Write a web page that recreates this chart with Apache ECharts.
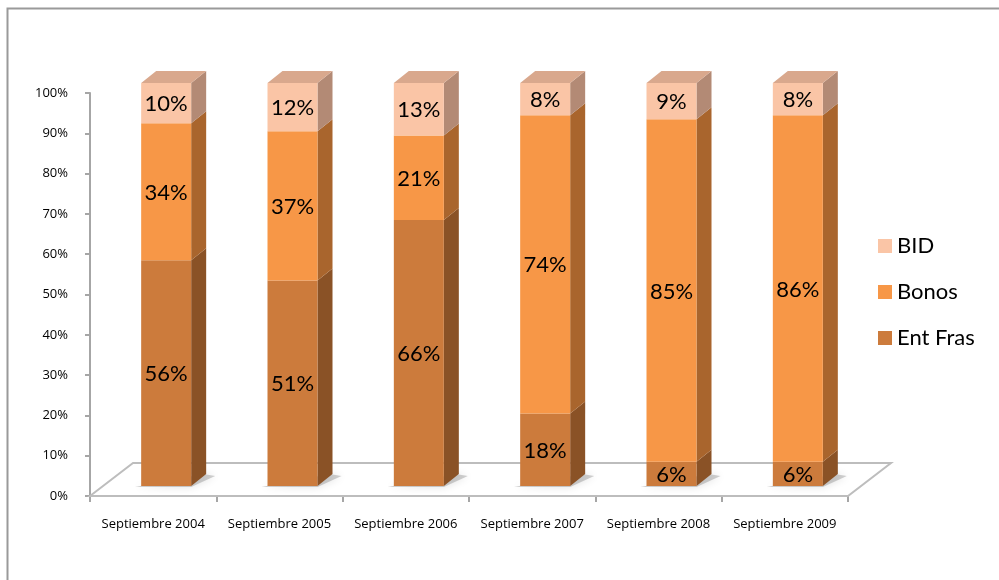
<!DOCTYPE html>
<html>
<head>
<meta charset="utf-8">
<script src="https://cdn.jsdelivr.net/npm/echarts@6/dist/echarts.min.js"></script>
<style>
  html, body { margin: 0; padding: 0; background: #fff; }
  #grafica { width: 999px; height: 580px; }
</style>
</head>
<body>
<div id="grafica"></div>
<script>
// datos
var categorias = ['Septiembre 2004', 'Septiembre 2005', 'Septiembre 2006', 'Septiembre 2007', 'Septiembre 2008', 'Septiembre 2009'];
var entFras = [56, 51, 66, 18, 6, 6];
var bonos = [34, 37, 21, 74, 85, 86];
var bid = [10, 12, 13, 8, 9, 8];
var ticksY = [0, 10, 20, 30, 40, 50, 60, 70, 80, 90, 100];

// colores: frente, lado, arriba
var colores = {
    'Ent Fras': ['#CC7B3C', '#8A5226', '#B06A32'],
    'Bonos': ['#F79747', '#A9652D', '#D9843F'],
    'BID': ['#FAC5A6', '#B38A75', '#D9A88D']
};

var FONDO_X = 43, FONDO_Y = -33;   // profundidad del suelo
var DX = 13, DY = -10;             // desplazamiento de la barra
var PX = 15, PY = -12;             // profundidad de la barra
var ANCHO = 50;

function serieBarra(nombre, valores, bases, conTapa) {
    var c = colores[nombre];
    return {
        name: nombre,
        type: 'custom',
        z: 5,
        itemStyle: { color: c[0] },
        data: valores.map(function (v, i) { return [i, bases[i], bases[i] + v, v]; }),
        encode: { x: 0, y: [1, 2] },
        renderItem: function (params, api) {
            var ini = api.coord([api.value(0), api.value(1)]);
            var fin = api.coord([api.value(0), api.value(2)]);
            var xl = ini[0] + DX - ANCHO / 2;
            var xr = ini[0] + DX + ANCHO / 2;
            var yb = ini[1] + DY;
            var yt = fin[1] + DY;
            var hijos = [
                { type: 'polygon', shape: { points: [[xr, yt], [xr + PX, yt + PY], [xr + PX, yb + PY], [xr, yb]] },
                  style: { fill: c[1] } },
                { type: 'rect', shape: { x: xl, y: yt, width: ANCHO, height: yb - yt },
                  style: { fill: c[0] } },
                { type: 'text', style: { text: api.value(3) + '%', x: (xl + xr) / 2, y: (yt + yb) / 2 + 1,
                  align: 'center', verticalAlign: 'middle', fill: '#000', font: '22px Lato, "Open Sans", sans-serif' } }
            ];
            if (conTapa) {
                hijos.splice(1, 0, { type: 'polygon',
                    shape: { points: [[xl, yt], [xl + PX, yt + PY], [xr + PX, yt + PY], [xr, yt]] },
                    style: { fill: c[2] } });
            }
            return { type: 'group', children: hijos };
        }
    };
}

function renderGrafico() {
    var grafico = echarts.init(document.getElementById('grafica'));
    var base2 = entFras.map(function (v) { return v; });
    var base3 = entFras.map(function (v, i) { return v + bonos[i]; });
    var ceros = entFras.map(function () { return 0; });

    var suelo = {
        type: 'custom',
        z: 1,
        silent: true,
        data: [[0, 0]],
        renderItem: function (params, api) {
            var banda = api.size([1, 0])[0];
            var p0 = api.coord([0, 0]);
            var p1 = api.coord([categorias.length - 1, 0]);
            var x0 = p0[0] - banda / 2, x1 = p1[0] + banda / 2, y = p0[1];
            var hijos = [
                { type: 'polygon', shape: { points: [[x0, y], [x0 + FONDO_X, y + FONDO_Y], [x1 + FONDO_X, y + FONDO_Y], [x1, y]] },
                  style: { fill: '#fff', stroke: '#BDBDBD', lineWidth: 2 } }
            ];
            // sombras de las barras en el suelo
            for (var i = 0; i < categorias.length; i++) {
                var cx = api.coord([i, 0])[0] + DX;
                hijos.push({ type: 'polygon',
                    shape: { points: [[cx - ANCHO / 2 - 6, y + DY + 1], [cx + ANCHO / 2, y + DY + 1], [cx + ANCHO / 2 + 24, y + DY - 10], [cx + ANCHO / 2 + 12, y + DY - 12]] },
                    style: { fill: 'rgba(120,120,120,0.35)', shadowBlur: 8, shadowColor: 'rgba(0,0,0,0.35)' } });
            }
            return { type: 'group', children: hijos };
        }
    };

    var option = {
        animation: false,
        textStyle: { fontFamily: 'Lato, "Open Sans", sans-serif' },
        graphic: [{
            type: 'rect', left: 5, top: 6, z: 0,
            shape: { width: 1100, height: 700 },
            style: { fill: 'none', stroke: '#9A9A9A', lineWidth: 2 }
        }],
        grid: { left: 90, right: 151, top: 93, bottom: 84 },
        legend: {
            data: ['BID', 'Bonos', 'Ent Fras'],
            orient: 'vertical',
            left: 873,
            top: 230,
            itemGap: 24,
            itemWidth: 14,
            itemHeight: 14,
            icon: 'rect',
            textStyle: { fontSize: 22, color: '#000', fontFamily: 'Lato, "Open Sans", sans-serif' }
        },
        xAxis: {
            type: 'category',
            data: categorias,
            axisLine: { show: false },
            axisTick: { show: true, length: 6, lineStyle: { color: '#A6A6A6', width: 2 } },
            axisLabel: { color: '#000', fontSize: 13, margin: 22, interval: 0, hideOverlap: false,
                         fontFamily: '"Open Sans", sans-serif' }
        },
        yAxis: {
            type: 'value',
            min: ticksY[0],
            max: ticksY[ticksY.length - 1],
            interval: 10,
            axisLine: { show: true, lineStyle: { color: '#A6A6A6', width: 2 } },
            axisTick: { show: true, length: 5, lineStyle: { color: '#A6A6A6', width: 2 } },
            splitLine: { show: false },
            axisLabel: { color: '#000', fontSize: 13, margin: 22, formatter: '{value}%', fontFamily: '"Open Sans", sans-serif' }
        },
        series: [
            suelo,
            serieBarra('Ent Fras', entFras, ceros, false),
            serieBarra('Bonos', bonos, base2, false),
            serieBarra('BID', bid, base3, true)
        ]
    };

    grafico.setOption(option);
}

renderGrafico();
</script>
</body>
</html>
